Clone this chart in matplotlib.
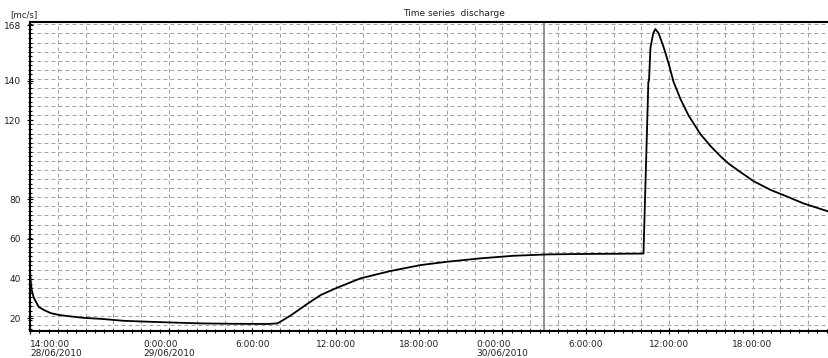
import numpy as np
import pandas as pd
import matplotlib
matplotlib.use('Agg')
import matplotlib.pyplot as plt
import matplotlib.dates as mdates
from matplotlib.ticker import FixedLocator, FixedFormatter

# ---------------- data ----------------
start = pd.Timestamp('2010-06-28 14:00')
end = start + pd.Timedelta(hours=57.5)

# hours since start, discharge [m3/s]
hours = [0.0, 0.06, 0.12, 0.27, 0.63, 0.99, 1.49, 2.06, 2.71, 3.86, 5.09, 6.74,
         8.68, 10.84, 12.28, 14.65, 17.1, 17.82, 18.03, 18.76, 19.84, 20.91,
         21.99, 23.79, 25.95, 28.11, 30.05, 32.43, 34.8, 37.25, 39.62, 44.15,
         44.5, 44.55, 44.65, 44.85, 45.0, 45.23, 45.59, 45.95, 46.31, 46.81,
         47.39, 48.25, 49.0, 49.69, 50.3, 50.91, 52.08, 53.3, 54.5, 55.66, 57.5]
discharge = [44.5, 38.0, 34.3, 30.3, 25.6, 24.1, 22.5, 21.6, 21.0, 20.1, 19.6, 18.6,
             18.1, 17.6, 17.3, 17.1, 17.0, 17.3, 18.2, 21.3, 26.6, 31.6,
             35.0, 40.1, 43.8, 46.8, 48.5, 50.2, 51.5, 52.2, 52.4, 52.6,
             139.4, 140.5, 156.6, 164.0, 166.2, 164.2, 157.2, 149.0, 139.5, 130.8,
             122.5, 113.0, 106.8, 101.8, 98.0, 94.9, 89.2, 84.8, 81.4, 78.0, 73.8]

tick_times = ['2010-06-28 14:00', '2010-06-29 00:00', '2010-06-29 06:00',
              '2010-06-29 12:00', '2010-06-29 18:00', '2010-06-30 00:00',
              '2010-06-30 06:00', '2010-06-30 12:00', '2010-06-30 18:00']
tick_labels = ['14:00:00\n28/06/2010', '0:00:00\n29/06/2010', '6:00:00',
               '12:00:00', '18:00:00', '0:00:00\n30/06/2010', '6:00:00',
               '12:00:00', '18:00:00']
y_ticks = [20, 40, 60, 80, 120, 140, 168]
y_labels = ['20', '40', '60', '80', '120', '140', '168']
marker_time = '2010-06-30 03:00'
title = 'Time series  discharge'
unit_label = '[mc/s]'

# ---------------- figure ----------------
W, H = 829, 358
fig = plt.figure(figsize=(W / 100, H / 100), dpi=100)
ax = fig.add_axes([30 / W, (H - 330.7) / H, 1 - 30 / W, (330.7 - 21.7) / H])

times = start + pd.to_timedelta(hours, unit='h')
ymin, ymax = 13.6, 169.9
ax.set_xlim(start, end)
ax.set_ylim(ymin, ymax)

grid_kw = dict(color='#a0a0a0', lw=0.7, linestyles=(0, (4, 3.2)), zorder=1)
vgrid = pd.date_range(start + pd.Timedelta(hours=2), end, freq='2h')
ax.vlines(vgrid, ymin, ymax, **grid_kw)
gstep = 4.603
hgrid = 168.56 - gstep * np.arange(34)
ax.hlines(hgrid, start, end, **grid_kw)

ax.axvline(pd.Timestamp(marker_time), color='#8a8a8a', lw=1.3, zorder=2)

ax.plot(times, discharge, color='black', lw=1.3, zorder=3)

# ticks
ax.xaxis.set_major_locator(FixedLocator(mdates.date2num(pd.to_datetime(tick_times))))
ax.xaxis.set_major_formatter(FixedFormatter(tick_labels))
minor_x = pd.date_range(start, end, freq='40min')
ax.xaxis.set_minor_locator(FixedLocator(mdates.date2num(minor_x)))
ax.yaxis.set_major_locator(FixedLocator(y_ticks))
ax.yaxis.set_major_formatter(FixedFormatter(y_labels))
ax.yaxis.set_minor_locator(FixedLocator(168.56 - gstep / 2 * np.arange(68)))

ax.tick_params(axis='both', which='both', direction='inout', color='black',
               width=0.8, labelsize=6.5, labelcolor='#222222')
ax.tick_params(axis='both', which='major', length=4)
ax.tick_params(axis='both', which='minor', length=3)
ax.tick_params(axis='x', which='major', pad=4.5)
ax.tick_params(axis='y', which='major', pad=4.5)

fig.canvas.draw()
labs = ax.get_xticklabels()
labs[0].set_horizontalalignment('left')
for lab in labs:
    lab.set_multialignment('left')
    lab.set_linespacing(0.95)

for s in ['left', 'bottom', 'top']:
    ax.spines[s].set_linewidth(1.5)
    ax.spines[s].set_color('black')
ax.spines['right'].set_visible(False)

fig.text(454 / W, 1 - 13.5 / H, title, ha='center', va='center', fontsize=6.5, color='#222222')
fig.text(10 / W, 1 - 14.5 / H, unit_label, ha='left', va='center', fontsize=6.2, color='#222222')

fig.savefig('out.png', dpi=100)
